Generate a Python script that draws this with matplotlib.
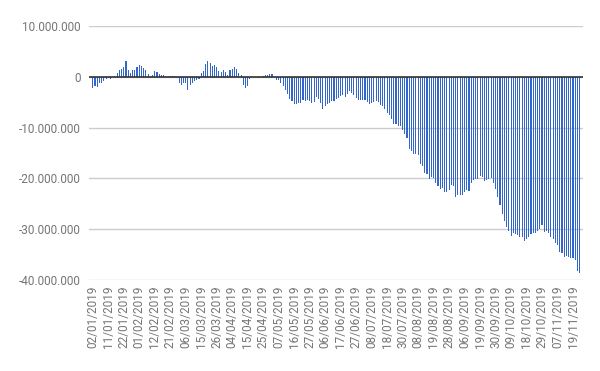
import numpy as np
import matplotlib
matplotlib.use("Agg")
import matplotlib.pyplot as plt
from matplotlib.ticker import FuncFormatter
from matplotlib.transforms import ScaledTranslation

plt.rcParams['font.family'] = ['Roboto', 'DejaVu Sans']

# daily balance, in millions
values = [
    -2.3, -1.9, -2.1, -1.3, -1.3, -0.9, -0.5, -0.3, -0.5, 0.05,
    0.2, 0.8, 1.4, 1.6, 2.0, 3.1, 1.4, 0.8, 1.4, 1.4,
    2.0, 2.4, 2.2, 1.8, 1.4, 0.6, 0.2, 0.4, 1.2, 1.0,
    0.6, 0.4, 0.4, 0.05, 0.05, 0.2, 0.2, 0.2, -0.3, -1.3,
    -1.7, -1.2, -1.3, -2.6, -1.6, -1.2, -0.9, -0.7, -0.5, 0.8,
    1.2, 2.6, 3.1, 2.7, 2.2, 2.4, 2.0, 1.2, 1.0, 1.4,
    1.0, 0.4, 1.4, 1.6, 2.0, 1.6, 0.8, 0.4, -1.7, -2.3,
    -1.9, -0.5, -0.1, 0.0, 0.0, -0.2, 0.0, 0.2, 0.4, 0.4,
    0.6, 0.6, 0.0, -0.7, -0.7, -1.3, -1.8, -2.5, -3.3, -4.3,
    -4.8, -5.4, -5.4, -5.2, -5.2, -4.6, -4.8, -4.5, -4.8, -5.2,
    -5.0, -3.9, -4.3, -5.2, -6.4, -5.8, -5.4, -5.2, -4.8, -4.8,
    -4.3, -4.1, -3.7, -3.5, -3.9, -3.3, -2.7, -3.1, -3.5, -4.1,
    -4.5, -4.5, -4.5, -4.5, -5.0, -5.4, -5.2, -5.0, -4.8, -5.0,
    -5.6, -5.8, -6.4, -7.2, -7.6, -8.4, -9.2, -9.2, -9.7, -9.7,
    -10.5, -11.3, -12.1, -14.2, -14.6, -15.2, -15.2, -15.4, -17.2, -17.6,
    -19.0, -19.2, -20.1, -19.7, -19.9, -20.9, -21.5, -22.1, -21.9, -22.7,
    -22.7, -22.3, -21.3, -21.5, -23.7, -23.3, -23.2, -23.3, -22.7, -22.3,
    -22.5, -20.9, -20.3, -20.1, -20.1, -19.5, -19.7, -20.5, -20.3, -20.1,
    -19.9, -20.9, -22.1, -23.7, -25.2, -27.0, -28.4, -29.5, -30.3, -31.3,
    -30.7, -30.9, -31.1, -31.5, -31.5, -32.3, -31.9, -31.5, -30.9, -30.7,
    -30.7, -30.3, -29.9, -29.2, -30.5, -30.3, -30.7, -31.5, -31.9, -32.7,
    -33.1, -34.4, -34.6, -35.4, -35.2, -35.4, -35.6, -35.6, -36.0, -38.2,
    -38.6,
]

# one label every 7 bars
tick_labels = [
    '02/01/2019', '11/01/2019', '22/01/2019', '01/02/2019', '12/02/2019',
    '21/02/2019', '06/03/2019', '15/03/2019', '26/03/2019', '04/04/2019',
    '15/04/2019', '25/04/2019', '07/05/2019', '16/05/2019', '27/05/2019',
    '06/06/2019', '17/06/2019', '27/06/2019', '08/07/2019', '18/07/2019',
    '30/07/2019', '08/08/2019', '19/08/2019', '28/08/2019', '06/09/2019',
    '19/09/2019', '30/09/2019', '09/10/2019', '18/10/2019', '29/10/2019',
    '07/11/2019', '19/11/2019',
]
tick_step = 7

y = np.array(values) * 1e6
x = np.arange(len(y))

fig = plt.figure(figsize=(6, 3.71), dpi=100)
ax = fig.add_axes([0.148, 0.245, 0.824, 0.685])

ax.bar(x, y, width=0.5, color='#3366cc', zorder=3)

ax.set_ylim(-40e6, 10e6)
ax.set_yticks(np.arange(-40e6, 10e6 + 1, 10e6))
ax.set_xlim(-1.8, len(y) + 0.6)

def fmt(v, pos):
    return f'{int(round(v)):,}'.replace(',', '.')

ax.yaxis.set_major_formatter(FuncFormatter(fmt))
ax.grid(axis='y', color='#cccccc', linewidth=1, zorder=0)
ax.axhline(0, color='#333333', linewidth=1.2, zorder=4)

ax.set_xticks(x[::tick_step])
ax.set_xticklabels(tick_labels, rotation=90, fontsize=8.5, color='#757575')
shift = ScaledTranslation(-4 / 100, 0, fig.dpi_scale_trans)
for lbl in ax.get_xticklabels():
    lbl.set_transform(lbl.get_transform() + shift)

ax.tick_params(axis='y', labelsize=8.5, labelcolor='#757575', length=0, pad=6)
ax.tick_params(axis='x', length=0, pad=4)
for s in ax.spines.values():
    s.set_visible(False)

fig.savefig('out.png', dpi=100)
